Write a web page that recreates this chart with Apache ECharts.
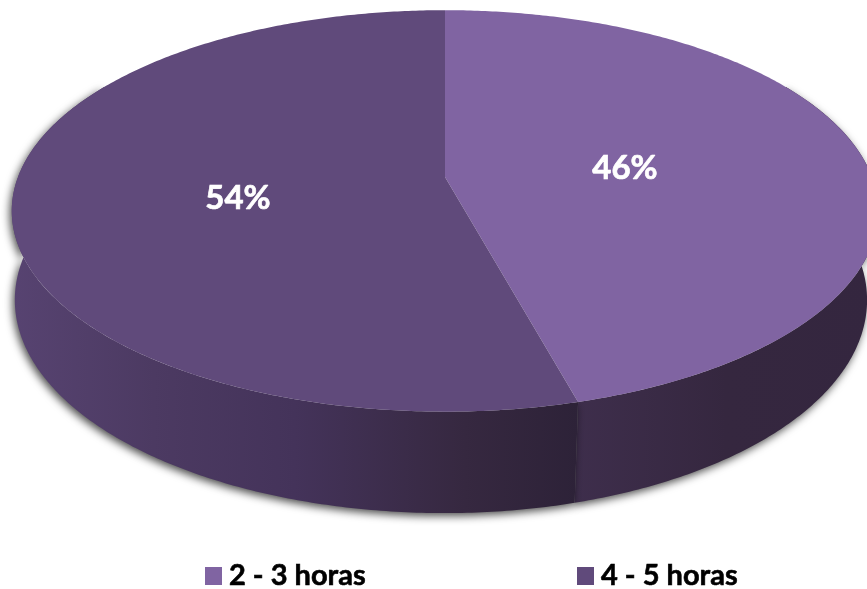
<!DOCTYPE html>
<html><head><meta charset="utf-8">
<script src="https://cdn.jsdelivr.net/npm/echarts@6/dist/echarts.min.js"></script>
<style>html,body{margin:0;padding:0;background:#fff}#c{width:867px;height:589px}</style>
</head><body><div id="c"></div>
<script>
const categories = ['2 - 3 horas', '4 - 5 horas'];
const values = [45.8, 54.2];
const topColors = ['#8064A2', '#604A7B'];
const total = values.reduce((a, b) => a + b, 0);

// perspective projection of the disc
const K = 0.169, APEX_X = 445, APEX_Y = 177;
function project(theta, rim) {
  const u = Math.sin(theta), v = Math.cos(theta), s = 1 / (1 + K * v);
  return rim
    ? [APEX_X + (u < 0 ? 424 : 416) * u * s, APEX_Y + 87 - 207 * v * s]
    : [APEX_X + 427 * u * s, APEX_Y - 195 * v * s];
}
function arc(a, b, rim) {
  const n = Math.max(2, Math.ceil(Math.abs(b - a) / 0.01)), pts = [];
  for (let i = 0; i <= n; i++) pts.push(project(a + (b - a) * i / n, rim));
  return pts;
}
function sliceAngles(i) {
  let start = 0;
  for (let j = 0; j < i; j++) start += values[j];
  return [start / total * 2 * Math.PI, (start + values[i]) / total * 2 * Math.PI];
}
const wallFill = [
  new echarts.graphic.LinearGradient(0, 0, 1, 0, [
    { offset: 0, color: '#3e2e4c' }, { offset: 0.5, color: '#35273f' }, { offset: 1, color: '#34263f' }]),
  new echarts.graphic.LinearGradient(0, 0, 1, 0, [
    { offset: 0, color: '#574371' }, { offset: 0.25, color: '#4c3a62' }, { offset: 0.5, color: '#44335a' },
    { offset: 0.8, color: '#362840' }, { offset: 1, color: '#2d2238' }])
];
function wallSeries(i) {
  return {
    type: 'custom', name: categories[i], coordinateSystem: 'none', z: 2 + (i === 0 ? 0 : 1),
    itemStyle: { color: topColors[i] }, silent: true,
    data: [values[i]],
    renderItem() {
      const [a, b] = sliceAngles(i);
      // only the front of the rim shows; the rest stays hidden under the top face
      const from = Math.max(a, Math.PI / 3), to = Math.min(b, Math.PI * 5 / 3);
      const pts = arc(from, to, false).concat(arc(to, from, true));
      return { type: 'polygon', shape: { points: pts },
        style: { fill: wallFill[i], shadowBlur: 8, shadowColor: 'rgba(0,0,0,0.7)', shadowOffsetY: 3, shadowOffsetX: -2 } };
    }
  };
}
function topSeries(i) {
  return {
    type: 'custom', name: categories[i], coordinateSystem: 'none', z: 5,
    itemStyle: { color: topColors[i] }, silent: true,
    data: [values[i]],
    renderItem() {
      const [a, b] = sliceAngles(i);
      const pts = [[APEX_X, APEX_Y]].concat(arc(a, b, false));
      return { type: 'polygon', shape: { points: pts }, style: { fill: topColors[i] } };
    }
  };
}
const labelPos = [[625, 168], [238, 198]];
function labelSeries(i) {
  return {
    type: 'custom', name: categories[i], coordinateSystem: 'none', z: 6, silent: true,
    itemStyle: { color: topColors[i] },
    data: [values[i]],
    renderItem(p, api) {
      return { type: 'text', x: labelPos[i][0], y: labelPos[i][1],
        style: { text: Math.round(api.value(0)) + '%', fill: '#fff', font: 'bold 33px Lato',
          stroke: '#fff', lineWidth: 0.7, align: 'center', verticalAlign: 'middle' } };
    }
  };
}
const series = [];
[1, 0].forEach(i => series.push(wallSeries(i)));
[0, 1].forEach(i => series.push(topSeries(i)));
[0, 1].forEach(i => series.push(labelSeries(i)));

const legendBase = { orient: 'horizontal', itemWidth: 17, itemHeight: 18, itemGap: 0, icon: 'rect', selectedMode: false, top: 556,
  textStyle: { fontFamily: 'Lato', fontWeight: 'bold', fontSize: 29, lineHeight: 30, color: '#000', padding: [0, 0, 0, 2],
    textBorderColor: '#000', textBorderWidth: 0.6 } };
const chart = echarts.init(document.getElementById('c'), null, { renderer: 'canvas' });
chart.setOption({
  animation: false,
  backgroundColor: '#fff',
  legend: [
    Object.assign({}, legendBase, { left: 200, data: [categories[0]] }),
    Object.assign({}, legendBase, { left: 572, data: [categories[1]] })
  ],
  series
});
</script></body></html>
